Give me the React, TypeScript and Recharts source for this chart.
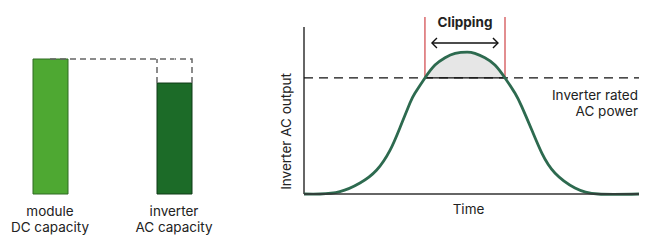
import React from 'react';
import {
  Area,
  Bar,
  BarChart,
  Cell,
  ComposedChart,
  Line,
  ReferenceLine,
  XAxis,
  YAxis,
} from 'recharts';

const FONT = 'Inter, "Noto Sans", sans-serif';
const TEXT = '#222';

// left panel: capacity bars
const capacityCategories = ['module|DC capacity', 'inverter|AC capacity'];
const capacityValues = [100, 82.2];
const headroomValues = [0, 17.8];
const capacityFills = ['#4ea832', '#1c6b28'];
const capacityStrokes = ['#2f6a22', '#0f3a16'];

// right panel: output over time
const timeValues = [0, 4.8, 10.7, 16.7, 21.7, 25.7, 28.7, 31.6, 33.1, 36.1, 39.1, 42.1, 45.1, 48.7, 51, 54, 57, 60, 63, 65, 68, 71, 74.9, 80.9, 87.8, 100];
const outputValues = [0, 0, 1.4, 6.6, 14.4, 26.3, 40, 54.3, 60.3, 69.5, 77.2, 81.6, 84.2, 85, 84.2, 81.6, 77.2, 69.5, 60.3, 52.3, 38.3, 24.5, 12.6, 3.6, 0, 0];
const ratedPower = 69.5;
const clipStart = 36.1;
const clipEnd = 60;
const arrowY = 90.4;
const arrowFrom = 38.2;
const arrowTo = 57.9;
const axisTop = 100;
const yMax = 106;

const barData = capacityCategories.map((name, i) => ({
  name,
  value: capacityValues[i],
  headroom: headroomValues[i],
}));

const curveData = timeValues.map((t, i) => ({
  t,
  v: outputValues[i],
  clip: t >= clipStart && t <= clipEnd ? [ratedPower, outputValues[i]] : null,
}));

// two-line category label under each bar
const CapacityTick = ({ x, y, payload }: any) => {
  const [first, second] = String(payload.value).split('|');
  return (
    <text x={x} y={y} textAnchor="middle" fill={TEXT} fontSize={13.5} fontFamily={FONT}>
      <tspan x={x} dy={22}>{first}</tspan>
      <tspan x={x} dy={16}>{second}</tspan>
    </text>
  );
};

// dashed outline above the inverter bar (left side, right side, right half of top)
const HeadroomShape = (props: any) => {
  const { x, y, width, height } = props;
  if (!height || height <= 0) return <g />;
  const d = `M${x},${y + height} L${x},${y} M${x + width},${y + height} L${x + width},${y} L${x + width / 2},${y}`;
  return <path d={d} fill="none" stroke="#666" strokeWidth={1.5} strokeDasharray="6 4" />;
};

const DoubleArrow = (props: any) => {
  const { x1, y1, x2, y2 } = props;
  const h = 5;
  return (
    <g stroke="#111" strokeWidth={1.4} fill="none">
      <line x1={x1} y1={y1} x2={x2} y2={y2} />
      <polyline points={`${x1 + h},${y1 - h} ${x1},${y1} ${x1 + h},${y1 + h}`} />
      <polyline points={`${x2 - h},${y2 - h} ${x2},${y2} ${x2 - h},${y2 + h}`} />
    </g>
  );
};

const YLabel = (props: any) => {
  const { viewBox } = props;
  const cx = viewBox.x + 15.5;
  const cy = 131.5;
  return (
    <text
      x={cx}
      y={cy}
      transform={`rotate(-90, ${cx}, ${cy})`}
      textAnchor="middle"
      dominantBaseline="central"
      fill={TEXT}
      fontSize={13.5}
      fontFamily={FONT}
    >
      Inverter AC output
    </text>
  );
};

const RatedLabel = (props: any) => {
  const { viewBox } = props;
  const right = viewBox.x + viewBox.width - 1;
  return (
    <text x={right} y={viewBox.y} textAnchor="end" fill={TEXT} fontSize={13.5} fontFamily={FONT}>
      <tspan x={right} dy={22}>Inverter rated</tspan>
      <tspan x={right} dy={16}>AC power</tspan>
    </text>
  );
};

export default function App() {
  return (
    <div
      style={{
        position: 'absolute',
        left: 0,
        top: 0,
        width: 650,
        height: 245,
        background: '#fff',
        overflow: 'hidden',
      }}
    >
      <div style={{ position: 'absolute', left: -12, top: 0 }}>
        <BarChart
          width={248}
          height={245}
          data={barData}
          margin={{ top: 59, right: 0, bottom: 21, left: 0 }}
          barSize={35}
        >
          <XAxis
            dataKey="name"
            axisLine={false}
            tickLine={false}
            tickSize={0}
            tickMargin={0}
            height={30}
            interval={0}
            tick={<CapacityTick />}
          />
          <YAxis hide domain={[0, 100]} />
          <Bar dataKey="value" stackId="cap" strokeWidth={1} isAnimationActive={false}>
            {barData.map((entry, i) => (
              <Cell key={`cap-${entry.name}`} fill={capacityFills[i]} stroke={capacityStrokes[i]} />
            ))}
          </Bar>
          <Bar dataKey="headroom" stackId="cap" shape={<HeadroomShape />} isAnimationActive={false} />
          <ReferenceLine
            segment={[
              { x: capacityCategories[0], y: 100 },
              { x: capacityCategories[1], y: 100 },
            ]}
            stroke="#666"
            strokeWidth={1.5}
            strokeDasharray="6 4"
          />
        </BarChart>
      </div>

      <div style={{ position: 'absolute', left: 270, top: 0 }}>
        <ComposedChart
          width={380}
          height={245}
          data={curveData}
          margin={{ top: 17, right: 11, bottom: 21, left: 0 }}
        >
          <XAxis
            type="number"
            dataKey="t"
            domain={[0, 100]}
            tick={false}
            tickLine={false}
            axisLine={{ stroke: '#333', strokeWidth: 1.5 }}
            height={30}
            label={{ value: 'Time', position: 'insideTop', offset: 10, dx: -3, fill: TEXT, fontSize: 13.5, fontFamily: FONT }}
          />
          <YAxis
            type="number"
            domain={[0, yMax]}
            width={34}
            tick={false}
            tickLine={false}
            axisLine={false}
            label={YLabel}
          />
          <Area
            type="natural"
            dataKey="clip"
            fill="#e6e6e6"
            fillOpacity={1}
            stroke="none"
            isAnimationActive={false}
          />
          <ReferenceLine
            segment={[{ x: 0, y: 0 }, { x: 0, y: axisTop }]}
            stroke="#333"
            strokeWidth={1.5}
          />
          <ReferenceLine
            y={ratedPower}
            stroke="#111"
            strokeWidth={1.3}
            strokeDasharray="9 6"
            label={RatedLabel}
          />
          <ReferenceLine
            segment={[{ x: clipStart, y: ratedPower }, { x: clipEnd, y: ratedPower }]}
            stroke="#111"
            strokeWidth={1.3}
          />
          <ReferenceLine
            segment={[{ x: clipStart, y: ratedPower }, { x: clipStart, y: yMax }]}
            stroke="#d9686b"
            strokeWidth={1.5}
          />
          <ReferenceLine
            segment={[{ x: clipEnd, y: ratedPower }, { x: clipEnd, y: yMax }]}
            stroke="#d9686b"
            strokeWidth={1.5}
          />
          <ReferenceLine
            segment={[{ x: arrowFrom, y: arrowY }, { x: arrowTo, y: arrowY }]}
            shape={DoubleArrow}
            label={{ value: 'Clipping', position: 'top', offset: 16, fill: TEXT, fontSize: 13.5, fontWeight: 700, fontFamily: FONT }}
          />
          <Line
            type="natural"
            dataKey="v"
            stroke="#2d6a4f"
            strokeWidth={2.8}
            dot={false}
            isAnimationActive={false}
          />
        </ComposedChart>
      </div>
    </div>
  );
}
